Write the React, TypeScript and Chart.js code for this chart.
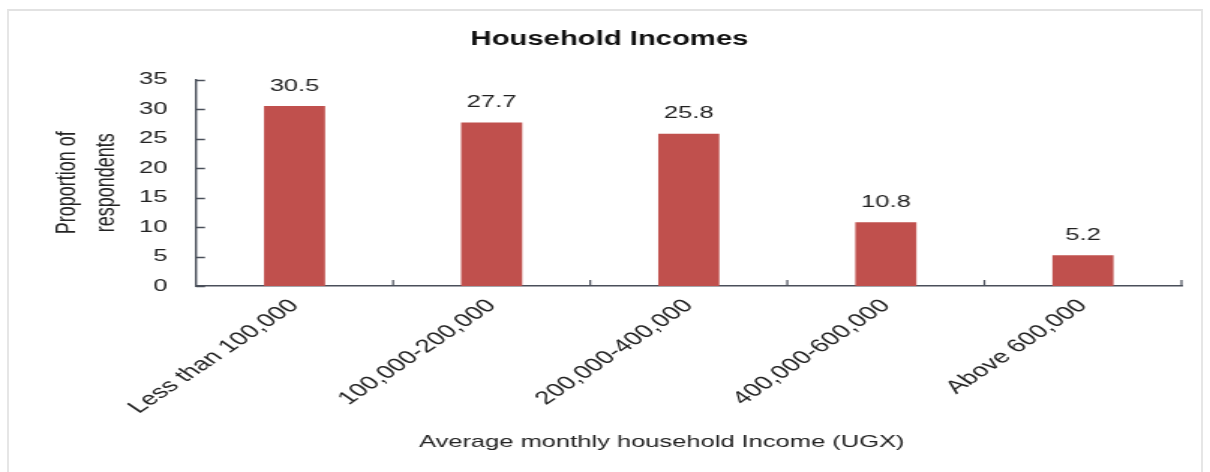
import React, { useEffect, useRef } from "react";
import { Chart, registerables } from "chart.js";

Chart.register(...registerables);

const categories = [
  "Less than 100,000",
  "100,000-200,000",
  "200,000-400,000",
  "400,000-600,000",
  "Above 600,000",
];
const proportions = [30.5, 27.7, 25.8, 10.8, 5.2];
const yTicks = [0, 5, 10, 15, 20, 25, 30, 35];
const chartTitle = "Household Incomes";
const yTitle = ["Proportion of", "respondents"];
const xTitle = "Average monthly household Income (UGX)";

const SANS = "'Liberation Sans', Arial, sans-serif";
// the reference picture is a horizontally widened export: draw on a narrower
// canvas and show it at the full page width
const CANVAS_W = 807;
const CANVAS_H = 472;

export default function App() {
  const ref = useRef<HTMLCanvasElement | null>(null);

  useEffect(() => {
    if (!ref.current) return;

    const extras = {
      id: "extras",
      afterDraw(chart: any) {
        const ctx = chart.ctx;
        const area = chart.chartArea;
        const xs = chart.scales.x;
        const ys = chart.scales.y;
        ctx.save();
        // chart title
        ctx.fillStyle = "#111";
        ctx.font = `bold 19.5px ${SANS}`;
        ctx.textAlign = "center";
        ctx.textBaseline = "middle";
        ctx.fillText(chartTitle, chart.width / 2 + 3, 40);
        // inward tick marks
        ctx.strokeStyle = "#4a4f5a";
        ctx.lineWidth = 1.5;
        ctx.beginPath();
        yTicks.forEach((v) => {
          const y = Math.round(ys.getPixelForValue(v)) + 0.5;
          ctx.moveTo(area.left, y);
          ctx.lineTo(area.left + 6, y);
        });
        ctx.stroke();
        ctx.lineWidth = 1.2;
        ctx.beginPath();
        for (let i = 1; i <= categories.length; i++) {
          const x = xs.getPixelForValue(i - 0.5);
          ctx.moveTo(x, area.bottom);
          ctx.lineTo(x, area.bottom - 6);
        }
        ctx.stroke();
        // data labels
        ctx.fillStyle = "#222";
        ctx.font = `17px ${SANS}`;
        const meta = chart.getDatasetMeta(0);
        meta.data.forEach((bar: any, i: number) => {
          ctx.fillText(String(proportions[i]), bar.x, bar.y - 20);
        });
        // x axis title
        ctx.font = `17px ${SANS}`;
        ctx.fillText(xTitle, (area.left + area.right) / 2 - 18, 442);
        ctx.restore();
      },
    };

    const chart = new Chart(ref.current, {
      type: "bar",
      data: {
        labels: categories,
        datasets: [
          {
            data: proportions,
            backgroundColor: "rgb(192,80,77)",
            borderWidth: 0,
            barPercentage: 0.31,
            categoryPercentage: 1,
          },
        ],
      },
      options: {
        responsive: false,
        animation: false,
        devicePixelRatio: 1,
        layout: { padding: { left: 0, right: 19, top: 79.5, bottom: 0 } },
        plugins: {
          legend: { display: false },
          tooltip: { enabled: false },
          title: { display: false },
        },
        scales: {
          x: {
            grid: { display: false, drawTicks: false, offset: true },
            border: { display: true, color: "#4a4f5a", width: 1.5 },
            ticks: {
              autoSkip: false,
              minRotation: 45,
              maxRotation: 45,
              padding: 9,
              color: "#222",
              font: { family: SANS, size: 18.5 },
            },
            afterFit: (s: any) => {
              s.height = 186;
            },
          },
          y: {
            min: 0,
            max: 35,
            grid: { display: false, drawTicks: false },
            border: { display: true, color: "#4a4f5a", width: 1.4 },
            ticks: {
              stepSize: 5,
              padding: 19,
              color: "#222",
              font: { family: SANS, size: 17 },
            },
            title: {
              display: true,
              text: yTitle,
              color: "#222",
              font: { family: SANS, size: 18, lineHeight: "26px" },
              padding: { top: 32, bottom: 0 },
            },
            afterFit: (s: any) => {
              s.width = 130.7;
            },
          },
        },
      },
      plugins: [extras],
    } as any);

    return () => chart.destroy();
  }, []);

  return (
    <div
      style={{
        position: "fixed",
        left: 0,
        top: 0,
        width: 1210,
        height: 472,
        overflow: "hidden",
        background: "#fff",
      }}
    >
      <canvas
        ref={ref}
        width={CANVAS_W}
        height={CANVAS_H}
        style={{ display: "block", width: "1210px", height: "472px" }}
      />
      <div
        style={{
          position: "absolute",
          left: 7,
          top: 9,
          width: 1192,
          height: 480,
          borderTop: "2px solid #e2e2e2",
          borderLeft: "2px solid #e6e6e6",
          borderRight: "2px solid #e6e6e6",
          pointerEvents: "none",
        }}
      />
    </div>
  );
}
